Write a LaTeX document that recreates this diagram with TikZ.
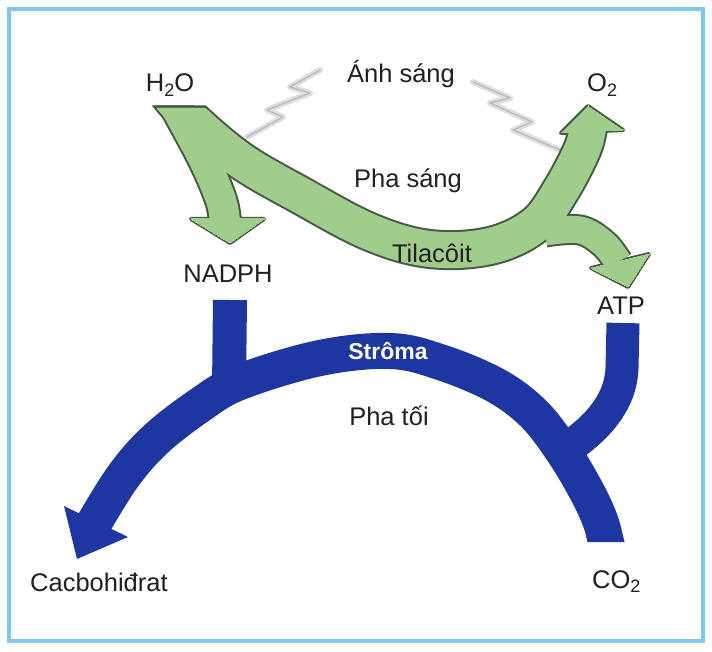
\documentclass[tikz,border=0pt]{standalone}
\usepackage{fontspec}
\setmainfont{Liberation Sans}
\definecolor{framecol}{RGB}{125,200,235}
\definecolor{gfill}{RGB}{160,204,140}
\definecolor{gdark}{RGB}{70,88,70}
\definecolor{bband}{RGB}{30,55,160}
\definecolor{txt}{RGB}{35,31,32}
\newcommand\greenshape[2]{%
  \begin{scope}[#1]
  \draw[line width=36+#2] plot[smooth,tension=0.6] coordinates {(165,90) (190,118) (240,160) (300,195) (370,232) (430,249) (490,246) (535,225) (561,190) (582,150) (588,128)};
  \draw[line width=30+#2] plot[smooth,tension=0.6] coordinates {(166,90) (180,115) (205,162) (221,200) (225,222)};
  \draw[line width=27+#2] plot[smooth,tension=0.6] coordinates {(545,232) (580,230) (604,244) (618,262)};
  \filldraw[line width=#2, line join=round] (561,133) -- (588,106) -- (623,130) -- cycle;
  \filldraw[line width=#2, line join=round] (191,219) -- (230,243) -- (264,219) -- cycle;
  \filldraw[line width=#2, line join=round] (591,268) -- (628,287) -- (649,254) -- cycle;
  \end{scope}}
\tikzset{
  lbl/.style={font=\fontsize{25.5}{30}\selectfont, text=txt, inner sep=0pt, anchor=base},
  boltbg/.style={draw=gray!25, line width=6, line join=round, line cap=round},
  boltfg/.style={draw=gray!55, line width=1.3, line join=round, line cap=round},
}
\newcommand\subtwo{\raisebox{-0.35ex}{\fontsize{18}{18}\selectfont 2}}
\begin{document}
\begin{tikzpicture}[x=1pt,y=-1pt]
\useasboundingbox (0,0) rectangle (712,652);
\fill[white] (0,0) rectangle (712,652);
\draw[framecol, line width=4] (9,9) rectangle (703,641);

% lightning bolts
\draw[boltbg] (320,70) -- (290,87) -- (310,93) -- (267,110) -- (283,117) -- (247,137);
\draw[boltfg] (320,70) -- (290,87) -- (310,93) -- (267,110) -- (283,117) -- (247,137);
\draw[boltbg] (473,82) -- (510,98) -- (490,103) -- (532,122) -- (513,130) -- (560,150);
\draw[boltfg] (473,82) -- (510,98) -- (490,103) -- (532,122) -- (513,130) -- (560,150);

% green light phase arrows
\begin{scope}
  \clip (0,105.5) -- (400,105.5) -- (400,0) -- (712,0) -- (712,652) -- (0,652) -- cycle;
  \greenshape{gdark,fill=gdark}{4}
\end{scope}
\begin{scope}
  \clip (0,108) -- (400,108) -- (400,0) -- (712,0) -- (712,652) -- (0,652) -- cycle;
  \greenshape{gfill,fill=gfill}{0}
\end{scope}

% blue dark phase arrows
\begin{scope}
  \clip (0,0) -- (712,0) -- (712,542) -- (400,542) -- (400,652) -- (0,652) -- cycle;
  \draw[bband, line width=36] plot[smooth,tension=0.6] coordinates {(612,565) (606,542) (600,520) (586,490) (562,450) (533,413) (495,385) (440,362) (390,351) (320,358) (240,382) (200,405) (155,440) (122,478) (90,530)};
  \draw[bband, line width=34] (230,300) -- (229,388);
  \draw[bband, line width=33] (623,323) -- (622,368) .. controls (621,400) and (600,425) .. (572,445);
  \fill[bband] (64,506) -- (77,559) -- (128,537) -- cycle;
\end{scope}

% labels
\node[lbl] (anh) at (401,83) {Ánh sáng};
\node[lbl] (h2o) at (170,92) {H\subtwo O};
\node[lbl, anchor=base west] (o2) at (587,92) {O\subtwo};
\node[lbl] (phasang) at (408,188) {Pha sáng};
\node[lbl] (tila) at (432,263) {Tilacôit};
\node[lbl] (nadph) at (228,283) {NADPH};
\node[lbl] (atp) at (621,315) {ATP};
\node[lbl, font=\fontsize{23}{26}\selectfont\bfseries, text=white] (stroma) at (388,359) {Strôma};
\node[lbl] (phatoi) at (389,425) {Pha tối};
\node[lbl, anchor=base west] (cacbo) at (30,591) {Cacbohiđrat};
\node[lbl, anchor=base west] (co2) at (592,588) {CO\subtwo};
\end{tikzpicture}
\end{document}
